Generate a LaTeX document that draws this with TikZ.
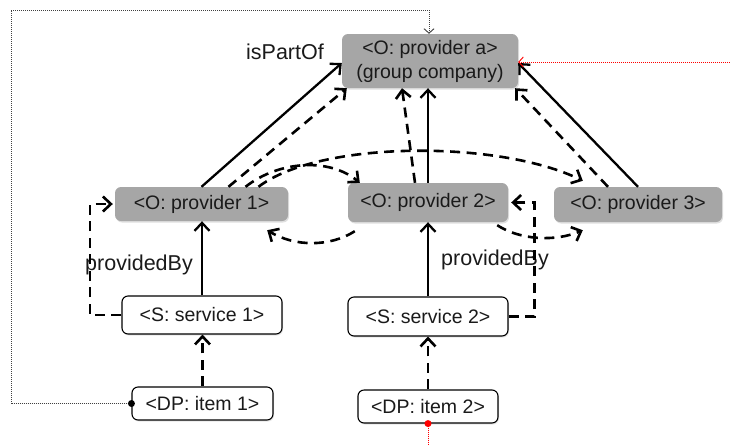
\documentclass[tikz,border=0pt]{standalone}
\usepackage{fontspec}
\setmainfont{Liberation Sans}
\usetikzlibrary{arrows.meta,shadows}
\definecolor{orgfill}{HTML}{A6A6A6}
\definecolor{txt}{HTML}{1A1A1A}
\begin{document}
\begin{tikzpicture}[x=1pt,y=-1pt,
  every node/.style={font=\fontsize{19.5}{23}\selectfont, text=txt, inner sep=0pt, align=center},
  orgbox/.style={rounded corners=6pt, fill=orgfill,
    drop shadow={shadow xshift=1pt, shadow yshift=-1.5pt, opacity=0.25}},
  itembox/.style={rounded corners=6pt, draw=black, line width=1.1pt, fill=white,
    drop shadow={shadow xshift=1pt, shadow yshift=-1.5pt, opacity=0.2}},
  lbl/.style={font=\fontsize{21.5}{25}\selectfont},
  tip/.style={-{Straight Barb[length=8pt,width=15pt]}},
  solidarrow/.style={line width=2.3pt, tip},
  dasharrow/.style={line width=2.6pt, dash pattern=on 10pt off 6.5pt, tip},
  loopline/.style={line width=0.9pt, draw=black!75, dash pattern=on 1pt off 1pt,
    -{Straight Barb[length=4.5pt,width=10pt]}},
  redline/.style={line width=0.9pt, draw=red, dash pattern=on 1pt off 1pt}
]
\path[use as bounding box] (0,0) rectangle (730,445);

% organisations
\node[orgbox, minimum width=176pt, minimum height=54pt] (pa) at (430,61)
  {<O: provider a>\\[1pt](group company)};
\node[orgbox, minimum width=173pt, minimum height=34pt] (p1) at (201.5,204) {<O: provider 1>};
\node[orgbox, minimum width=160pt, minimum height=39pt] (p2) at (428,202.5) {<O: provider 2>};
\node[orgbox, minimum width=168pt, minimum height=35pt] (p3) at (638,204.5) {<O: provider 3>};

% services and items
\node[itembox, minimum width=160pt, minimum height=38pt] (s1) at (202,315) {<S: service 1>};
\node[itembox, minimum width=160pt, minimum height=39pt] (s2) at (428,316.5) {<S: service 2>};
\node[itembox, minimum width=141pt, minimum height=33pt] (i1) at (202.5,403.5) {<DP: item 1>};
\node[itembox, minimum width=140pt, minimum height=33pt] (i2) at (428,406.5) {<DP: item 2>};

% labels
\node[lbl] (ispartof) at (285,52) {isPartOf};
\node[lbl] (pby1) at (139,265) {providedBy};
\node[lbl] (pby2) at (495,260) {providedBy};

% isPartOf links
\draw[solidarrow] (p1.north) -- ([yshift=-2pt]pa.west);
\draw[dasharrow] ([xshift=27pt]p1.north) -- ([xshift=5pt]pa.south west);
\draw[solidarrow] (p2.north) -- (p2.north |- pa.south);
\draw[dasharrow] ([xshift=-13pt]p2.north) -- ([xshift=-28pt]pa.south);
\draw[solidarrow] (p3.north) -- ([yshift=-2pt]pa.east);
\draw[dasharrow] ([xshift=-30pt]p3.north) -- ([xshift=-3pt]pa.south east);

% links between providers
\draw[dasharrow] ([xshift=44pt]p1.north) .. controls (280,160) and (330,158) .. ([xshift=12pt]p2.north west);
\draw[dasharrow] ([xshift=57pt]p1.north) .. controls (320,140) and (500,140) .. ([xshift=29pt,yshift=6pt]p3.north west);
\draw[dasharrow] ([xshift=7pt,yshift=-9pt]p2.south west) .. controls (330,247) and (295,247) .. ([xshift=-21pt,yshift=-9pt]p1.south east);
\draw[dasharrow] ([xshift=-11pt,yshift=-3pt]p2.south east) .. controls (520,240) and (555,242) .. ([xshift=29pt,yshift=-8pt]p3.south west);

% providedBy links
\draw[solidarrow] (s1.north) -- (s1.north |- p1.south);
\draw[solidarrow] (s2.north) -- (s2.north |- p2.south);
\draw[dasharrow, shorten >=2pt] (s1.west) -| ([xshift=-25pt]p1.west) -- (p1.west);
\draw[dasharrow, shorten >=3pt] (s2.east) -| ([xshift=26pt]p2.east) -- (p2.east);

% items to services
\draw[dasharrow] (i1.north) -- (i1.north |- s1.south);
\draw[dasharrow] (i2.north) -- (i2.north |- s2.south);

% dotted loop from item 1 to provider a
\coordinate (loopbl) at (11,403.5);
\coordinate (looptl) at (11,10);
\draw[loopline] (i1.west) -- (loopbl) -- (looptl) -- ([xshift=-1pt]looptl -| pa.north) -- ([xshift=-1pt]pa.north);
\fill[black] (i1.west) circle (3.5pt);

% red dotted links
\coordinate (redin) at (730,62);
\coordinate (redout) at (428,445);
\draw[redline, -{Straight Barb[length=4.5pt,width=10pt]}] (redin) -- ([yshift=-1pt]pa.east);
\draw[redline] (i2.south) -- (redout);
\fill[red] (i2.south) circle (3.5pt);
\end{tikzpicture}
\end{document}
